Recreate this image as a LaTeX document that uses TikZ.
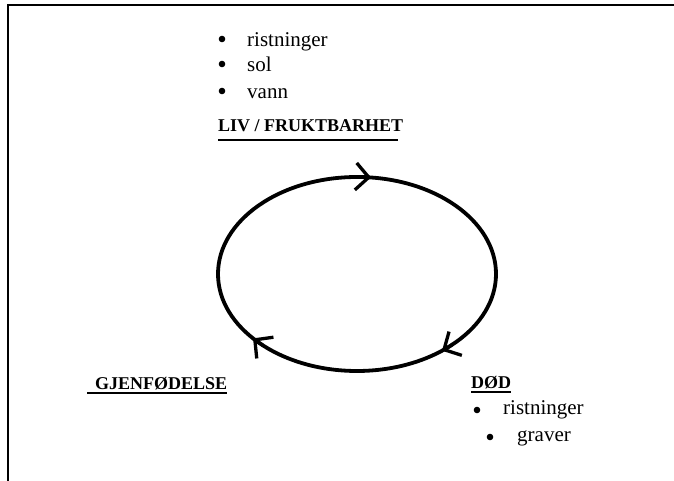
\documentclass[tikz,border=0pt]{standalone}
\usepackage{fontspec}
\setmainfont{Liberation Serif}
\usetikzlibrary{arrows.meta}

\tikzset{
  item/.style={anchor=base west, inner sep=0pt, font=\fontsize{21}{25}\selectfont},
  head/.style={anchor=base west, inner sep=0pt, font=\fontsize{18}{21}\selectfont\bfseries},
  uline/.style={line width=1.8pt},
  dot/.style={fill=black},
  cycleline/.style={line width=3.8pt},
  turn/.style={->, line width=3.3pt}
}

\begin{document}
\begin{tikzpicture}[x=1pt, y=1pt, >={Straight Barb[length=13pt, width=27pt]}]

\useasboundingbox (0,0) rectangle (674,481);
\fill[white] (0,0) rectangle (674,481);

% Frame (only top and left edge show)
\draw[line width=2.5pt] (8,0) -- (8,476) -- (674,476);

% --- Top list ---
\fill[dot] (222,442) circle (3.3pt);
\node[item] (ris1) at (247,434) {ristninger};
\fill[dot] (222,417) circle (3.3pt);
\node[item] (sol) at (247,409) {sol};
\fill[dot] (222,390) circle (3.3pt);
\node[item] (vann) at (247,382) {vann};

% Heading above the cycle
\node[head] (liv) at (218,349) {LIV / FRUKTBARHET};
\draw[uline] ([yshift=-8pt]liv.base west) -- ++(180,0);

% --- The cycle ---
\coordinate (ctr) at (357,207);
\draw[cycleline] (ctr) ellipse [x radius=139pt, y radius=97pt];

% clockwise arrow heads on the ellipse
\draw[turn] (ctr) ++(90.6:139pt and 97pt)
  arc[start angle=90.6, end angle=84.2, x radius=139pt, y radius=97pt];
\draw[turn] (ctr) ++(-46.3:139pt and 97pt)
  arc[start angle=-46.3, end angle=-52.3, x radius=139pt, y radius=97pt];
\draw[turn] (ctr) ++(-132.4:139pt and 97pt)
  arc[start angle=-132.4, end angle=-138.4, x radius=139pt, y radius=97pt];

% --- Lower left ---
\node[head] (gjen) at (95,91) {GJENFØDELSE};
\draw[uline] ([xshift=-8pt, yshift=-3pt]gjen.base west) -- ([yshift=-3pt]gjen.base east);

% --- Lower right ---
\node[head] (dod) at (471,92) {DØD};
\draw[uline] ([yshift=-3pt]dod.base west) -- ([yshift=-3pt]dod.base east);

\fill[dot] (477,71) circle (3.3pt);
\node[item] (ris2) at (503,66) {ristninger};
\fill[dot] (490,44) circle (3.3pt);
\node[item] (grav) at (517,39) {graver};

\end{tikzpicture}
\end{document}
